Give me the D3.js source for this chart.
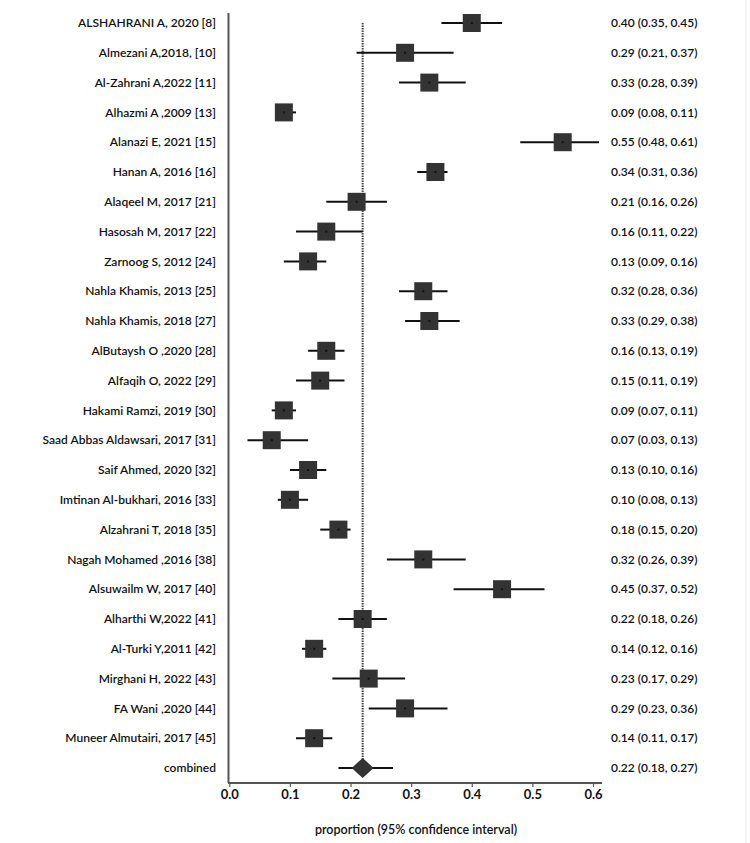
<!DOCTYPE html>
<html><head><meta charset="utf-8">
<script src="https://cdn.jsdelivr.net/npm/d3@7"></script>
<style>
html,body{margin:0;padding:0;background:#fff;}
text{font-family:Lato,"Open Sans",sans-serif;fill:#111;}
</style></head>
<body><svg id="c" width="750" height="843"></svg>
<script>
const studies = ["ALSHAHRANI A, 2020 [8]","Almezani A,2018, [10]","Al-Zahrani A,2022 [11]","Alhazmi A ,2009 [13]","Alanazi E, 2021 [15]","Hanan A, 2016 [16]","Alaqeel M, 2017 [21]","Hasosah M, 2017 [22]","Zarnoog S, 2012 [24]","Nahla Khamis, 2013 [25]","Nahla Khamis, 2018 [27]","AlButaysh O ,2020 [28]","Alfaqih O, 2022 [29]","Hakami Ramzi, 2019 [30]","Saad Abbas Aldawsari, 2017 [31]","Saif Ahmed, 2020 [32]","Imtinan Al-bukhari, 2016 [33]","Alzahrani T, 2018 [35]","Nagah Mohamed ,2016 [38]","Alsuwailm W, 2017 [40]","Alharthi W,2022 [41]","Al-Turki Y,2011 [42]","Mirghani H, 2022 [43]","FA Wani ,2020 [44]","Muneer Almutairi, 2017 [45]"];
const estimate = [0.40,0.29,0.33,0.09,0.55,0.34,0.21,0.16,0.13,0.32,0.33,0.16,0.15,0.09,0.07,0.13,0.10,0.18,0.32,0.45,0.22,0.14,0.23,0.29,0.14];
const lower    = [0.35,0.21,0.28,0.08,0.48,0.31,0.16,0.11,0.09,0.28,0.29,0.13,0.11,0.07,0.03,0.10,0.08,0.15,0.26,0.37,0.18,0.12,0.17,0.23,0.11];
const upper    = [0.45,0.37,0.39,0.11,0.61,0.36,0.26,0.22,0.16,0.36,0.38,0.19,0.19,0.11,0.13,0.16,0.13,0.20,0.39,0.52,0.26,0.16,0.29,0.36,0.17];
const combinedLabel = "combined";
const combined = {est:0.22, lo:0.18, hi:0.27};
const xTicks = [0.0,0.1,0.2,0.3,0.4,0.5,0.6];
const xTitle = "proportion (95% confidence interval)";

const svg = d3.select("#c");
const fmt = d3.format(".2f");
const rows = studies.concat([combinedLabel]);
const x = d3.scaleLinear().domain([0,0.6]).range([229.3,593]);
const y = d3.scalePoint().domain(rows).range([23,768]);

// faint right border
svg.append("line").attr("x1",746).attr("x2",746).attr("y1",0).attr("y2",843)
  .attr("stroke","#e6e6e6").attr("stroke-width",1);

// left vertical axis line
svg.append("line").attr("x1",228.5).attr("x2",228.5).attr("y1",13).attr("y2",783)
  .attr("stroke","#555").attr("stroke-width",2);

// x axis
const ax = svg.append("g").attr("transform","translate(0,783)")
  .call(d3.axisBottom(x).tickValues(xTicks).tickFormat(d3.format(".1f")).tickSize(4).tickSizeOuter(0));
ax.select(".domain").attr("stroke","#555").attr("stroke-width",2).attr("d","M228,0H602");
ax.selectAll(".tick line").attr("stroke","#555").attr("stroke-width",1.2);
ax.selectAll(".tick text").attr("y",7).style("font-family","Lato,sans-serif").style("font-size","13px")
  .style("font-weight","bold").attr("fill","#222");

svg.append("text").attr("x",416).attr("y",834).attr("text-anchor","middle")
  .style("font-size","12.5px").style("font-weight","600").text(xTitle);

// reference dashed line at combined
svg.append("line").attr("x1",x(combined.est)).attr("x2",x(combined.est))
  .attr("y1",y(studies[0])).attr("y2",y(combinedLabel))
  .attr("stroke","#444").attr("stroke-width",2).attr("stroke-dasharray","1.5,1");

// study rows
const data = studies.map((s,i)=>({s,est:estimate[i],lo:lower[i],hi:upper[i]}));
const g = svg.append("g");
g.selectAll(".ci").data(data).join("line")
  .attr("x1",d=>x(d.lo)).attr("x2",d=>x(d.hi)).attr("y1",d=>y(d.s)).attr("y2",d=>y(d.s))
  .attr("stroke","#111").attr("stroke-width",2);
g.selectAll(".sq").data(data).join("rect")
  .attr("x",d=>x(d.est)-9).attr("y",d=>y(d.s)-9).attr("width",18).attr("height",18)
  .attr("fill","#333");
g.selectAll(".dot").data(data).join("rect")
  .attr("x",d=>x(d.est)-1).attr("y",d=>y(d.s)-1).attr("width",2).attr("height",2)
  .attr("fill","#111");

// combined
const cy = y(combinedLabel);
svg.append("line").attr("x1",x(combined.lo)).attr("x2",x(combined.hi)).attr("y1",cy).attr("y2",cy)
  .attr("stroke","#111").attr("stroke-width",2);
const cx = x(combined.est);
svg.append("path").attr("d",`M${cx-11},${cy}L${cx},${cy-10}L${cx+11},${cy}L${cx},${cy+10}Z`).attr("fill","#333");

// labels
svg.selectAll(".lab").data(rows).join("text")
  .attr("x",216).attr("y",d=>y(d)).attr("dy","0.35em").attr("text-anchor","end")
  .style("font-size","12px").style("font-weight","600").text(d=>d);
const rightVals = data.map(d=>({s:d.s,t:`${fmt(d.est)} (${fmt(d.lo)}, ${fmt(d.hi)})`}))
  .concat([{s:combinedLabel,t:`${fmt(combined.est)} (${fmt(combined.lo)}, ${fmt(combined.hi)})`}]);
svg.selectAll(".rv").data(rightVals).join("text")
  .attr("x",611).attr("y",d=>y(d.s)).attr("dy","0.35em")
  .style("font-size","12px").style("font-weight","600").text(d=>d.t);
</script></body></html>
